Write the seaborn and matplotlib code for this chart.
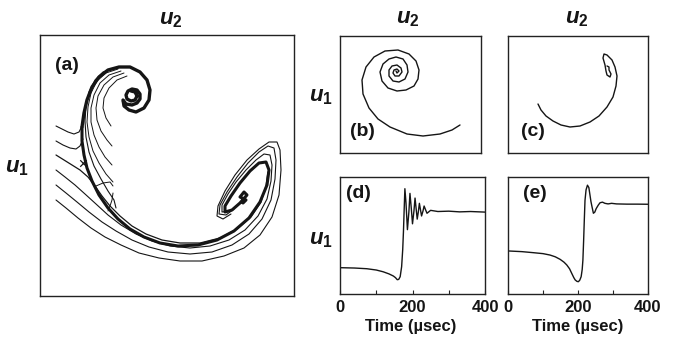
import numpy as np
import pandas as pd
import matplotlib
matplotlib.use("Agg")
import matplotlib.pyplot as plt
import seaborn as sns

# ---------------- data ----------------
# Panel (a): phase portrait, coordinates in panel units (u2 to the right, u1 downward)
a_spiral = [(131,91),(135,92),(137,96),(135,100),(131,101),(127,99),(126,95),(128,91),
            (132,89),(137,90),(140,94),(140,99),(137,103),(132,105),(126,104),(123,100),
            (124,106),(129,110),(136,112),(144,108),(149,100),(150,90),(147,80),(140,72),
            (130,67),(119,67),(108,70),(99,77),(92,87),(87,100),(84,113),(82,127)]
a_main = [(82,127),(82,141),(84,155),(87,168),(92,181),(99,195),(108,208),
          (118,219),(130,229),(144,237),(160,243),(178,246),(198,245),(217,240),(234,231),
          (249,218),(260,202),(267,185),(269,170),(266,162),(259,163),(250,171),(240,183),
          (231,196),(225,206),(225,212),(232,210),(240,203),(247,195),(244,192),(240,197),
          (246,200),(243,203)]
a_fan0 = [(56,126),(62,129),(68,132),(74,134),(79,132),(82,126)]
a_fan1 = [(56,141),(63,145),(70,148),(76,149),(80,146),(83,139)]
a_fan2 = [(56,155),(64,160),(72,165),(80,170),(88,177),(95,186),(102,196),(110,206),(120,216),
          (132,226),(146,234),(162,240),(180,243),(200,243),(220,238),(237,229),(251,217),
          (261,202),(266,186),(268,172)]
a_fan3 = [(56,170),(65,177),(75,185),(85,194),(96,204),(108,215),(121,225),(136,234),(152,241),
          (170,246),(190,248),(210,246),(229,240),(245,230),(258,216),(267,199),(271,181),
          (272,165),(270,155),(264,154),(256,160),(246,170),(236,182),(228,194),(222,205),
          (222,212),(229,211)]
a_fan4 = [(56,185),(66,193),(77,202),(89,212),(102,222),(116,231),(132,240),(149,247),(168,252),
          (190,254),(212,252),(232,245),(249,234),(262,219),(271,200),(275,179),(276,160),
          (274,148),(268,146),(259,152),(248,163),(237,177),(227,192),(220,205),(219,214),
          (226,215),(234,209)]
a_fan5 = [(56,200),(66,208),(78,218),(91,228),(105,237),(121,245),(139,253),(159,258),(180,261),
          (202,261),(224,256),(244,248),(260,235),(272,217),(279,195),(281,170),(280,150),
          (277,142),(269,142),(259,149),(247,160),(235,175),(225,191),(218,206),(217,216),
          (223,219),(231,214)]
a_arcA = [(127,76),(117,80),(109,88),(104,98),(103,108),(106,118),(111,126)]
a_arcB = [(124,73),(113,77),(104,85),(98,96),(96,108),(97,120),(101,131),(107,140),(112,146)]
a_arcC = [(121,71),(109,75),(100,83),(94,95),(91,108),(91,122),(94,135),(99,147),(105,157),(112,165)]
a_arcD = [(118,69),(106,73),(97,81),(91,93),(88,107),(87,122),(89,137),(93,151),(99,163),
          (106,174),(113,182)]
a_arcE = [(115,68),(103,72),(95,80),(89,92),(86,106),(85,121),(86,137),(89,152),(94,166),
          (101,179),(108,191),(114,200),(116,208)]
a_hook1 = [(96,186),(103,183),(110,182),(113,186)]
a_hook2 = [(113,193),(112,200),(110,206),(108,211)]
a_saddle = [(83,163)]

# Panel (b) and (c): single trajectories (panel units)
b_traj = [(460,125),(452,130),(440,134),(423,136),(407,134),(390,127),(378,119),(369,108),
          (363,94),(362,80),(366,67),(374,57),(385,51),(398,50),(409,54),(416,61),(419,70),
          (418,79),(414,86),(406,90),(397,91),(388,88),(382,81),(380,72),(383,64),(389,59),
          (396,57),(403,59),(407,65),(408,72),(405,79),(399,82),(393,81),(389,76),(389,70),
          (392,66),(397,65),(401,68),(402,72),(399,76),(395,76),(393,73),(394,70),(397,69),
          (399,71),(397,73),(396,71)]
c_traj = [(538,104),(541,110),(546,116),(553,121),(561,125),(570,127),(580,126),(590,122),
          (599,116),(607,107),(613,97),(616,86),(617,76),(615,67),(612,60),(607,55),(604,54),
          (603,58),(605,65),(606,71),(607,75),(610,77),(611,74),(609,70),(609,67),(607,66)]

# Panel (d) and (e): u1 versus time
d_time = [0, 40, 74, 100, 119, 135, 147, 153, 158, 162, 166, 170, 173, 175, 177, 179, 182,
          186, 190, 193, 197, 200, 204, 207, 210, 213, 216, 219, 222, 225, 229, 232, 236,
          240, 250, 270, 300, 330, 360, 400]
d_u1 = [0.225, 0.222, 0.216, 0.205, 0.19, 0.172, 0.154, 0.14, 0.122, 0.125, 0.148, 0.233,
        0.38, 0.53, 0.72, 0.90, 0.78, 0.55, 0.70, 0.86, 0.72, 0.60, 0.71, 0.82, 0.73, 0.64,
        0.70, 0.775, 0.72, 0.667, 0.71, 0.752, 0.72, 0.69, 0.715, 0.705, 0.708, 0.702,
        0.705, 0.70]
e_time = [0, 40, 73, 100, 120, 135, 149, 160, 168, 176, 182, 188, 192, 197, 201, 205, 209,
          212, 214, 216, 218, 220, 223, 227, 231, 234, 237, 240, 244, 248, 252, 258, 263,
          270, 277, 286, 296, 310, 340, 370, 400]
e_u1 = [0.368, 0.362, 0.353, 0.345, 0.333, 0.318, 0.296, 0.272, 0.248, 0.215, 0.177, 0.14,
        0.12, 0.108, 0.105, 0.118, 0.148, 0.21, 0.29, 0.45, 0.63, 0.80, 0.89, 0.93, 0.91,
        0.85, 0.79, 0.746, 0.69, 0.70, 0.73, 0.76, 0.78, 0.785, 0.775, 0.77, 0.775, 0.77,
        0.768, 0.768, 0.767]
time_ticks = [0, 100, 200, 300, 400]
time_ticklabels = ["0", "", "200", "", "400"]
panel_labels = ["(a)", "(b)", "(c)", "(d)", "(e)"]

# ---------------- style ----------------
sns.set_theme(style="white")
plt.rcParams["font.family"] = ["Liberation Sans", "DejaVu Sans"]
plt.rcParams["mathtext.fontset"] = "custom"
plt.rcParams["mathtext.rm"] = "Liberation Sans"
plt.rcParams["mathtext.it"] = "Liberation Sans:italic:bold"
plt.rcParams["mathtext.bf"] = "Liberation Sans:bold"

W, H = 676, 339
fig = plt.figure(figsize=(W / 100, H / 100), dpi=100)
INK = "#151515"


def box(x0, y0, x1, y1):
    return fig.add_axes([x0 / W, 1 - y1 / H, (x1 - x0) / W, (y1 - y0) / H])


def frame(ax):
    for s in ax.spines.values():
        s.set_visible(True)
        s.set_color("#222222")
        s.set_linewidth(1.0)


def curve(ax, pts, lw):
    df = pd.DataFrame(pts, columns=["u2", "u1"])
    sns.lineplot(data=df, x="u2", y="u1", sort=False, estimator=None, ax=ax,
                 color=INK, linewidth=lw)


def ftext(x, y, s, **kw):
    fig.text(x / W, 1 - y / H, s, ha="center", va="center", color=INK, **kw)


# panel (a)
axa = box(40, 35, 294, 296)
for pts, lw in [(a_fan0, 0.8), (a_fan1, 0.8), (a_fan2, 0.9), (a_fan3, 0.8), (a_fan4, 0.8),
                (a_fan5, 0.8), (a_arcA, 0.7), (a_arcB, 0.7), (a_arcC, 0.7), (a_arcD, 0.7),
                (a_arcE, 0.8), (a_hook1, 0.7), (a_hook2, 0.7), (a_spiral, 2.4), (a_main, 2.2)]:
    curve(axa, pts, lw)
sdf = pd.DataFrame(a_saddle, columns=["u2", "u1"])
sns.scatterplot(data=sdf, x="u2", y="u1", marker="x", s=22, color=INK, linewidth=0.9, ax=axa)
axa.set_xlim(40, 294)
axa.set_ylim(296, 35)

# panels (b), (c)
axb = box(340, 36, 481, 153)
curve(axb, b_traj, 1.0)
axb.set_xlim(340, 481)
axb.set_ylim(153, 36)
axc = box(508, 36, 648, 153)
curve(axc, c_traj, 1.0)
axc.set_xlim(508, 648)
axc.set_ylim(153, 36)

for ax in (axa, axb, axc):
    ax.set_xticks([])
    ax.set_yticks([])

# panels (d), (e)
axd = box(340, 177, 485, 294)
sns.lineplot(x=d_time, y=d_u1, sort=False, estimator=None, ax=axd, color=INK, linewidth=1.0)
axe = box(508, 177, 648, 294)
sns.lineplot(x=e_time, y=e_u1, sort=False, estimator=None, ax=axe, color=INK, linewidth=1.0)
for ax in (axd, axe):
    ax.set_xlim(0, 400)
    ax.set_ylim(0, 1)
    ax.set_xticks(time_ticks)
    ax.set_xticklabels(time_ticklabels, fontsize=12, fontweight="bold", color=INK)
    ax.tick_params(axis="x", direction="in", length=3, width=0.8, color="#222222",
                   pad=4, bottom=True)
    ax.set_yticks([])

for ax in (axa, axb, axc, axd, axe):
    frame(ax)
    ax.set_xlabel("")
    ax.set_ylabel("")

# axis labels
ulab = dict(fontsize=16)
ftext(171, 20, r"$\mathit{u}_{\mathbf{2}}$", **ulab)
ftext(408, 19, r"$\mathit{u}_{\mathbf{2}}$", **ulab)
ftext(577, 19, r"$\mathit{u}_{\mathbf{2}}$", **ulab)
ftext(17, 168, r"$\mathit{u}_{\mathbf{1}}$", **ulab)
ftext(321, 97, r"$\mathit{u}_{\mathbf{1}}$", **ulab)
ftext(321, 240, r"$\mathit{u}_{\mathbf{1}}$", **ulab)
ftext(411, 327, "Time (\u00b5sec)", fontsize=12, fontweight="bold")
ftext(578, 327, "Time (\u00b5sec)", fontsize=12, fontweight="bold")

# panel letters
for lab, (x, y) in zip(panel_labels, [(67, 66), (362, 132), (533, 132), (358, 193), (535, 193)]):
    ftext(x, y, lab, fontsize=14, fontweight="bold")

fig.savefig("out.png", dpi=100)
